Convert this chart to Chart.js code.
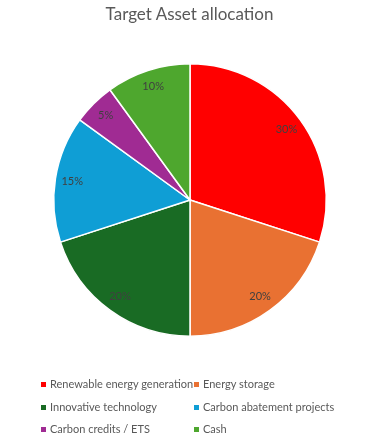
<!DOCTYPE html>
<html>
<head>
<meta charset="utf-8">
<script src="https://cdn.jsdelivr.net/npm/chart.js@4/dist/chart.umd.min.js"></script>
<style>
  body { margin: 0; background: #fff; }
  #wrap { position: relative; width: 376px; height: 444px; }
  #title { position: absolute; left: 0; width: 379px; top: 3px; text-align: center;
    font-family: Lato, sans-serif; font-size: 17px; color: #595959; }
  #legend { position: absolute; left: 0; top: 0; width: 376px; height: 444px; pointer-events: none; }
  .item { position: absolute; font-family: Lato, sans-serif; font-size: 11px; color: #595959;
    line-height: 14px; white-space: nowrap; }
  .box { display: inline-block; width: 5px; height: 5px; margin-right: 4px; vertical-align: 1px; }
</style>
</head>
<body>
<div id="wrap">
  <canvas id="pie"></canvas>
  <div id="title">Target Asset allocation</div>
  <div id="legend"></div>
</div>
<script>
const categories = ['Renewable energy generation', 'Energy storage', 'Innovative technology',
  'Carbon abatement projects', 'Carbon credits / ETS', 'Cash'];
const shares = [30, 20, 20, 15, 5, 10];
const colors = ['#FF0000', '#E97132', '#196B24', '#0F9ED5', '#A02B93', '#4EA72E'];

// percentage labels inside the slices, like Excel's data labels
const sliceLabels = {
  id: 'sliceLabels',
  afterDatasetsDraw(chart) {
    const ctx = chart.ctx;
    const meta = chart.getDatasetMeta(0);
    const total = shares.reduce((a, b) => a + b, 0);
    ctx.save();
    ctx.font = '11px Lato, sans-serif';
    ctx.fillStyle = '#404040';
    ctx.textAlign = 'center';
    ctx.textBaseline = 'middle';
    meta.data.forEach((arc, i) => {
      const p = arc.getProps(['x', 'y', 'startAngle', 'endAngle', 'outerRadius'], true);
      const mid = (p.startAngle + p.endAngle) / 2;
      const r = p.outerRadius * 0.875;
      ctx.fillText(Math.round(shares[i] / total * 100) + '%', p.x + Math.cos(mid) * r, p.y + Math.sin(mid) * r);
    });
    ctx.restore();
  }
};

new Chart(document.getElementById('pie'), {
  type: 'pie',
  data: {
    labels: categories,
    datasets: [{
      data: shares,
      backgroundColor: colors,
      borderColor: '#ffffff',
      borderWidth: 1.5
    }]
  },
  options: {
    responsive: true,
    maintainAspectRatio: false,
    animation: false,
    layout: { padding: { left: 53, right: 49, top: 63, bottom: 107 } },
    plugins: {
      legend: { display: false },
      tooltip: { enabled: false }
    }
  },
  plugins: [sliceLabels]
});

// legend in two columns under the pie
const legendEl = document.getElementById('legend');
const colX = [41, 194];
const rowY = [377, 400, 422];
categories.forEach((name, i) => {
  const d = document.createElement('div');
  d.className = 'item';
  d.style.left = colX[i % 2] + 'px';
  d.style.top = rowY[Math.floor(i / 2)] + 'px';
  d.innerHTML = '<span class="box" style="background:' + colors[i] + '"></span>' + name;
  legendEl.appendChild(d);
});
</script>
</body>
</html>
